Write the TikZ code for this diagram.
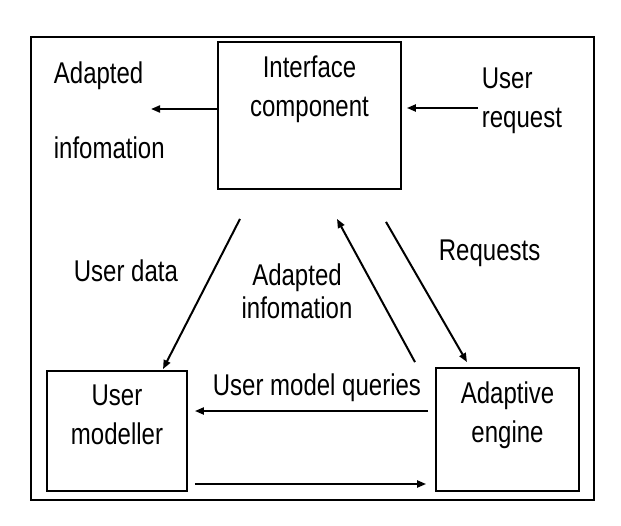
\documentclass[tikz,border=0pt]{standalone}
\usepackage{fontspec}
\setmainfont{Liberation Sans}[FakeStretch=0.8]
\usetikzlibrary{arrows.meta, positioning}
\tikzset{
  every picture/.style={line width=1.8pt},
  every node/.style={font=\fontsize{30}{39}\selectfont},
  unit/.style={draw, rectangle, inner sep=0pt,
    label={[anchor=north, align=center, yshift=-13.5pt, inner sep=0pt]north:#1}},
  arrow/.style={-{Triangle[length=9pt, width=7pt]}, line width=2pt},
  note/.style={align=left, inner sep=0pt, anchor=base west},
}

\begin{document}
\begin{tikzpicture}[x=1pt, y=-1pt]
  \useasboundingbox (0,0) rectangle (621,525);
  \draw[line width=2.2pt] (31,37) rectangle (594,500);
  % blocks
  \node[unit=Interface\\component, minimum width=183pt, minimum height=147pt] (iface) at (309.5,115.5) {};
  \node[unit=User\\modeller, minimum width=140pt, minimum height=120pt] (um) at (117,431) {};
  \node[unit=Adaptive\\engine, minimum width=143pt, minimum height=123pt] (ae) at (507.5,429.5) {};
  % labels
  \node[note] (adtop) at (53,83) {Adapted};
  \node[note] (adbot) at (53,158) {infomation};
  \node[note, anchor=north west] (req) at (481,66.5) {User\\request};
  \node[note, anchor=north, align=center, font=\fontsize{30}{33}\selectfont] (adinfo) at (297,263.3) {Adapted\\infomation};
  \node[note] (udata) at (73,281) {User data};
  \node[note] (reqs) at (438,260) {Requests};
  \node[note] (queries) at (212,395) {User model queries};
  \coordinate (adout) at (151,109);
  \coordinate (reqin) at (478,108);
  \coordinate (qline) at (0,411);
  \coordinate (rline) at (0,484);
  % connectors
  \draw[arrow] (iface.west |- adout) -- (adout);
  \draw[arrow, shorten >=5pt] (reqin) -- (iface.east |- reqin);
  \draw[arrow] ([xshift=-69.5pt, yshift=-29pt]iface.south) -- ([xshift=46pt, yshift=1pt]um.north);
  \draw[arrow] ([xshift=-92.5pt, yshift=5pt]ae.north) -- ([xshift=27.5pt, yshift=-29pt]iface.south);
  \draw[arrow] ([xshift=76.5pt, yshift=-32pt]iface.south) -- ([xshift=-40.5pt, yshift=5pt]ae.north);
  \draw[arrow, shorten <=7pt, shorten >=7pt] (ae.west |- qline) -- (um.east |- qline);
  \draw[arrow, shorten <=7pt, shorten >=9pt] (um.east |- rline) -- (ae.west |- rline);
\end{tikzpicture}
\end{document}
